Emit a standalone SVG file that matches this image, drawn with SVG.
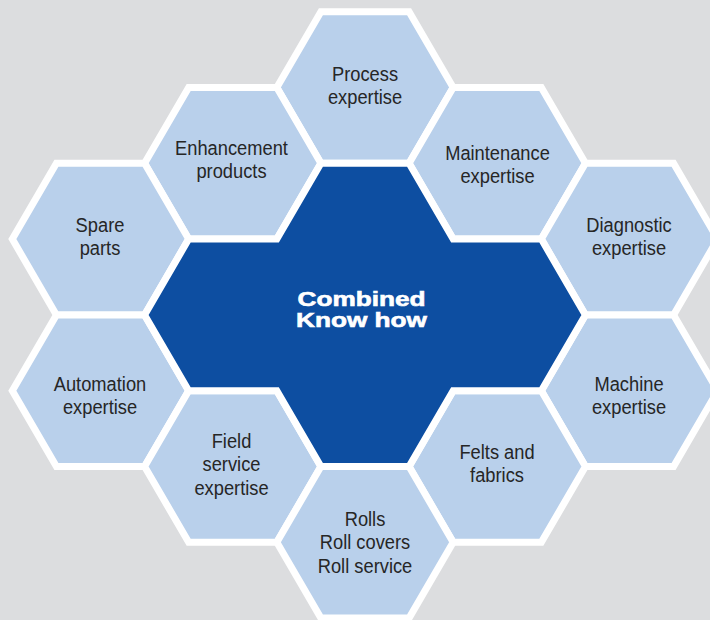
<svg xmlns="http://www.w3.org/2000/svg" width="710" height="620" viewBox="0 0 710 620">
<style>
.hex{fill:#b9d0eb;stroke:#ffffff;stroke-width:7;stroke-linejoin:miter}
.core{fill:#0d4ea1;stroke:#ffffff;stroke-width:7;stroke-linejoin:miter}
.lbl{font-family:"Liberation Sans",Arial,sans-serif;font-size:20px;fill:#262626;text-anchor:middle}
.clbl{font-family:"Liberation Sans",Arial,sans-serif;font-size:20px;font-weight:bold;fill:#ffffff;stroke:#ffffff;stroke-width:0.6;text-anchor:middle}
</style>
<rect x="0" y="0" width="710" height="620" fill="#dcdddf"/>
<g id="connectors"/>
<g id="process">
<polygon class="hex" points="276.83,87.5 320.92,11.7 409.08,11.7 453.17,87.5 409.08,163.3 320.92,163.3"/>
<g transform="translate(365,0) scale(0.915,1)"><text class="lbl" x="0" y="81">Process</text><text class="lbl" x="0" y="104.5">expertise</text></g>
</g>
<g id="enhancement">
<polygon class="hex" points="144.58,163.3 188.67,87.5 276.83,87.5 320.92,163.3 276.83,239.1 188.67,239.1"/>
<g transform="translate(231.5,0) scale(0.915,1)"><text class="lbl" x="0" y="155">Enhancement</text><text class="lbl" x="0" y="178.5">products</text></g>
</g>
<g id="maintenance">
<polygon class="hex" points="409.08,163.3 453.17,87.5 541.33,87.5 585.42,163.3 541.33,239.1 453.17,239.1"/>
<g transform="translate(497.5,0) scale(0.915,1)"><text class="lbl" x="0" y="160">Maintenance</text><text class="lbl" x="0" y="183.5">expertise</text></g>
</g>
<g id="spare">
<polygon class="hex" points="12.33,239.1 56.42,163.3 144.58,163.3 188.67,239.1 144.58,314.9 56.42,314.9"/>
<g transform="translate(100,0) scale(0.915,1)"><text class="lbl" x="0" y="232">Spare</text><text class="lbl" x="0" y="255.5">parts</text></g>
</g>
<g id="diagnostic">
<polygon class="hex" points="541.33,239.1 585.42,163.3 673.58,163.3 717.67,239.1 673.58,314.9 585.42,314.9"/>
<g transform="translate(629,0) scale(0.915,1)"><text class="lbl" x="0" y="232">Diagnostic</text><text class="lbl" x="0" y="255.5">expertise</text></g>
</g>
<g id="automation">
<polygon class="hex" points="12.33,390.7 56.42,314.9 144.58,314.9 188.67,390.7 144.58,466.5 56.42,466.5"/>
<g transform="translate(100,0) scale(0.915,1)"><text class="lbl" x="0" y="391">Automation</text><text class="lbl" x="0" y="414.5">expertise</text></g>
</g>
<g id="machine">
<polygon class="hex" points="541.33,390.7 585.42,314.9 673.58,314.9 717.67,390.7 673.58,466.5 585.42,466.5"/>
<g transform="translate(629,0) scale(0.915,1)"><text class="lbl" x="0" y="391">Machine</text><text class="lbl" x="0" y="414.5">expertise</text></g>
</g>
<g id="field">
<polygon class="hex" points="144.58,466.5 188.67,390.7 276.83,390.7 320.92,466.5 276.83,542.3 188.67,542.3"/>
<g transform="translate(231.5,0) scale(0.915,1)"><text class="lbl" x="0" y="448">Field</text><text class="lbl" x="0" y="471.5">service</text><text class="lbl" x="0" y="495">expertise</text></g>
</g>
<g id="felts">
<polygon class="hex" points="409.08,466.5 453.17,390.7 541.33,390.7 585.42,466.5 541.33,542.3 453.17,542.3"/>
<g transform="translate(497,0) scale(0.915,1)"><text class="lbl" x="0" y="459">Felts and</text><text class="lbl" x="0" y="482.5">fabrics</text></g>
</g>
<g id="rolls">
<polygon class="hex" points="276.83,542.3 320.92,466.5 409.08,466.5 453.17,542.3 409.08,618.1 320.92,618.1"/>
<g transform="translate(365,0) scale(0.915,1)"><text class="lbl" x="0" y="526">Rolls</text><text class="lbl" x="0" y="549.5">Roll covers</text><text class="lbl" x="0" y="573">Roll service</text></g>
</g>
<g id="combined">
<polygon class="core" points="144.58,314.9 188.67,239.1 276.83,239.1 320.92,163.3 409.08,163.3 453.17,239.1 541.33,239.1 585.42,314.9 541.33,390.7 453.17,390.7 409.08,466.5 320.92,466.5 276.83,390.7 188.67,390.7"/>
<g transform="translate(361.5,0) scale(1.31,1)"><text class="clbl" x="0" y="306">Combined</text><text class="clbl" x="0" y="327">Know how</text></g>
</g>
</svg>
